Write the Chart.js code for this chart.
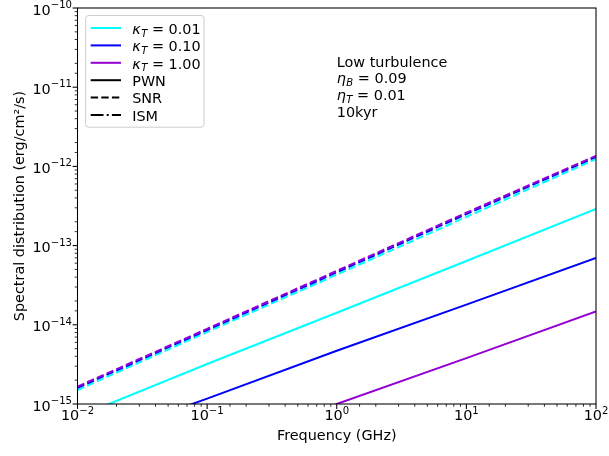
<!DOCTYPE html>
<html>
<head>
<meta charset="utf-8">
<script src="https://cdn.jsdelivr.net/npm/chart.js@4.4.1/dist/chart.umd.min.js"></script>
<style>
  html, body { margin: 0; padding: 0; background: #fff; }
  canvas { display: block; }
</style>
</head>
<body>
<canvas id="myChart" width="609" height="456"></canvas>
<script>
// частоты (GHz)
const freq = [0.01, 0.1, 1, 10, 100];

// PWN (сплошные)
const pwnK001 = [6.9e-16, 3.2e-15, 1.42e-14, 6.4e-14, 2.9e-13];
const pwnK010 = [3.0e-16, 1.17e-15, 4.7e-15, 1.8e-14, 7.0e-14];
const pwnK100 = [6.8e-17, 2.6e-16, 1.0e-15, 3.8e-15, 1.47e-14];

// SNR (пунктир)
const snrK001 = [1.5e-15, 8.1e-15, 4.3e-14, 2.3e-13, 1.24e-12];
const snrK010 = [1.6e-15, 8.6e-15, 4.6e-14, 2.5e-13, 1.32e-12];
const snrK100 = [1.66e-15, 8.9e-15, 4.8e-14, 2.6e-13, 1.36e-12];

const kappaLabels = ["κ_T = 0.01", "κ_T = 0.10", "κ_T = 1.00"];
const kappaColors = ["#00ffff", "#0000ff", "#9400d3"];
const styleLabels = ["PWN", "SNR", "ISM"];
const styleDashes = [[], [7.4, 3.2], [12.8, 3.2, 2, 3.2]];

// подписи делений: степени десяти
const xTickExps = [-2, -1, 0, 1, 2];
const yTickExps = [-15, -14, -13, -12, -11, -10];

// текст справа
const noteLines = ["Low turbulence", "η_B = 0.09", "η_T = 0.01", "10kyr"];

const FONT = "'DejaVu Sans'";
const FS = 14.4;
const FS_SUP = 10.1;

// текст вида "η_B = 0.09": символ курсивом, индекс ниже
function drawMath(ctx, str, x, y, size) {
  ctx.textBaseline = "alphabetic";
  ctx.textAlign = "left";
  const i = str.indexOf("_");
  if (i < 0) {
    ctx.font = `${size}px ${FONT}`;
    ctx.fillText(str, x, y);
    return;
  }
  const sym = str.slice(0, i);
  const sub = str.charAt(i + 1);
  const rest = str.slice(i + 2);
  ctx.font = `italic ${size}px ${FONT}`;
  ctx.fillText(sym, x, y);
  x += ctx.measureText(sym).width + 0.5;
  ctx.font = `italic ${size * 0.7}px ${FONT}`;
  ctx.fillText(sub, x, y + size * 0.2);
  x += ctx.measureText(sub).width;
  ctx.font = `${size}px ${FONT}`;
  ctx.fillText(rest, x, y);
}

// 10^n с верхним индексом
function powerLabel(ctx, exp) {
  const base = "10";
  const sup = (exp < 0 ? "\u2212" : "") + Math.abs(exp);
  ctx.font = `${FS}px ${FONT}`;
  const wb = ctx.measureText(base).width;
  ctx.font = `${FS_SUP}px ${FONT}`;
  const ws = ctx.measureText(sup).width;
  return { base, sup, wb, ws, w: wb + ws };
}

function drawPower(ctx, lab, x, baseline) {
  ctx.textAlign = "left";
  ctx.textBaseline = "alphabetic";
  ctx.font = `${FS}px ${FONT}`;
  ctx.fillText(lab.base, x, baseline);
  ctx.font = `${FS_SUP}px ${FONT}`;
  ctx.fillText(lab.sup, x + lab.wb, baseline - 6.5);
}

// рамка, деления, подписи делений
const axesPlugin = {
  id: "axesFrame",
  afterDraw(chart) {
    const { ctx, chartArea: a, scales } = chart;
    ctx.save();
    ctx.strokeStyle = "#000";
    ctx.fillStyle = "#000";

    // деления
    scales.x.ticks.forEach((t) => {
      const px = scales.x.getPixelForValue(t.value);
      const lg = Math.log10(t.value);
      const major = Math.abs(lg - Math.round(lg)) < 1e-6;
      ctx.lineWidth = major ? 1.06 : 0.8;
      ctx.beginPath();
      ctx.moveTo(px, a.bottom);
      ctx.lineTo(px, a.bottom + (major ? 4.9 : 2.8));
      ctx.stroke();
    });
    scales.y.ticks.forEach((t) => {
      const py = scales.y.getPixelForValue(t.value);
      const lg = Math.log10(t.value);
      const major = Math.abs(lg - Math.round(lg)) < 1e-6;
      ctx.lineWidth = major ? 1.06 : 0.8;
      ctx.beginPath();
      ctx.moveTo(a.left, py);
      ctx.lineTo(a.left - (major ? 4.9 : 2.8), py);
      ctx.stroke();
    });

    // рамка
    ctx.lineWidth = 1.06;
    ctx.strokeRect(a.left, a.top, a.right - a.left, a.bottom - a.top);

    // подписи
    xTickExps.forEach((e) => {
      const px = scales.x.getPixelForValue(Math.pow(10, e));
      const lab = powerLabel(ctx, e);
      drawPower(ctx, lab, px - lab.w / 2, a.bottom + 16);
    });
    yTickExps.forEach((e) => {
      const py = scales.y.getPixelForValue(Math.pow(10, e));
      const lab = powerLabel(ctx, e);
      drawPower(ctx, lab, a.left - 5.5 - lab.w, py + 6.5);
    });
    ctx.restore();
  },
};

// легенда в рамке и текст справа
const legendPlugin = {
  id: "boxLegend",
  afterDatasetsDraw(chart) {
    const { ctx, chartArea: a, scales } = chart;
    ctx.save();
    const bx = a.left + 8.2, by = a.top + 7.5, bw = 118.3, bh = 111.7;
    ctx.beginPath();
    ctx.roundRect(bx, by, bw, bh, 3);
    ctx.fillStyle = "rgba(255,255,255,0.8)";
    ctx.fill();
    ctx.strokeStyle = "#cccccc";
    ctx.lineWidth = 1;
    ctx.stroke();

    const rows = [];
    kappaLabels.forEach((l, i) => rows.push({ text: l, color: kappaColors[i], dash: [] }));
    styleLabels.forEach((l, i) => rows.push({ text: l, color: "#000", dash: styleDashes[i] }));

    rows.forEach((r, i) => {
      const ry = a.top + 20 + i * 17.4;
      ctx.strokeStyle = r.color;
      ctx.lineWidth = 2;
      ctx.setLineDash(r.dash);
      ctx.beginPath();
      ctx.moveTo(bx + 5, ry);
      ctx.lineTo(bx + 35.3, ry);
      ctx.stroke();
      ctx.setLineDash([]);
      ctx.fillStyle = "#000";
      drawMath(ctx, r.text, bx + 46.5, ry + 5.8, FS);
    });

    // подписи параметров
    const nx = scales.x.getPixelForValue(1);
    noteLines.forEach((l, i) => {
      ctx.fillStyle = "#000";
      drawMath(ctx, l, nx, a.top + 58.5 + i * 16.7, FS);
    });
    ctx.restore();
  },
};

const ctx = document.getElementById("myChart").getContext("2d");

function ds(data, color, dash) {
  return {
    data: data.map((v, i) => ({ x: freq[i], y: v })),
    borderColor: color,
    borderWidth: 2,
    borderDash: dash,
    pointRadius: 0,
    fill: false,
    tension: 0,
  };
}

new Chart(ctx, {
  type: "line",
  data: {
    // первый набор рисуется сверху
    datasets: [
      ds(snrK100, kappaColors[2], styleDashes[1]),
      ds(snrK010, kappaColors[1], styleDashes[1]),
      ds(snrK001, kappaColors[0], styleDashes[1]),
      ds(pwnK100, kappaColors[2], []),
      ds(pwnK010, kappaColors[1], []),
      ds(pwnK001, kappaColors[0], []),
    ],
  },
  options: {
    responsive: false,
    animation: false,
    layout: { padding: { top: 8, right: 13, left: 0, bottom: 0 } },
    plugins: {
      legend: { display: false },
      tooltip: { enabled: false },
    },
    scales: {
      x: {
        type: "logarithmic",
        min: 0.01,
        max: 100,
        grid: { display: false },
        border: { display: false },
        ticks: { display: false },
        title: {
          display: true,
          text: "Frequency (GHz)",
          color: "#000",
          font: { family: "DejaVu Sans", size: FS },
          padding: { bottom: 11.4 },
        },
        afterFit: (s) => { s.height = 52; },
      },
      y: {
        type: "logarithmic",
        min: 1e-15,
        max: 1e-10,
        grid: { display: false },
        border: { display: false },
        ticks: { display: false },
        title: {
          display: true,
          text: "Spectral distribution (erg/cm²/s)",
          color: "#000",
          font: { family: "DejaVu Sans", size: FS },
          padding: { top: 11.9 },
        },
        afterFit: (s) => { s.width = 77.5; },
      },
    },
  },
  plugins: [legendPlugin, axesPlugin],
});
</script>
</body>
</html>
